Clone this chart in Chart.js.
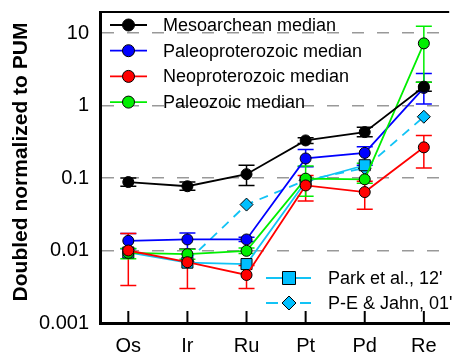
<!DOCTYPE html>
<html lang="en">
<head>
    <meta charset="UTF-8">
    <title>PGE normalized to PUM</title>
    <script src="https://cdn.jsdelivr.net/npm/chart.js"></script>
    <style>
        html, body { margin: 0; padding: 0; background: #fff; }
        #wrap { width: 458px; height: 356px; }
    </style>
</head>
<body>
    <div id="wrap"><canvas id="pumChart" width="458" height="356"></canvas></div>

    <script>
        // Elements on the x axis
        const elements = ['Os', 'Ir', 'Ru', 'Pt', 'Pd', 'Re'];

        // Y tick labels (log decades)
        const yTickValues = [0.001, 0.01, 0.1, 1, 10];
        const yTickLabels = ['0.001', '0.01', '0.1', '1', '10'];

        // Medians with error bar low / high
        const mesoarchean   = [0.088, 0.077, 0.113, 0.33, 0.43, 1.82];
        const mesoarcheanLo = [0.077, 0.068, 0.079, 0.30, 0.37, 1.57];
        const mesoarcheanHi = [0.100, 0.088, 0.150, 0.36, 0.50, 2.10];

        const paleoproterozoic   = [0.0136, 0.0142, 0.0142, 0.186, 0.222, 1.75];
        const paleoproterozoicLo = [0.0106, 0.0106, 0.0133, 0.143, 0.150, 1.05];
        const paleoproterozoicHi = [0.0171, 0.0175, 0.0152, 0.247, 0.270, 2.76];

        const neoproterozoic   = [0.0100, 0.0069, 0.0046, 0.079, 0.064, 0.265];
        const neoproterozoicLo = [0.0033, 0.0030, 0.0030, 0.048, 0.037, 0.137];
        const neoproterozoicHi = [0.0171, 0.0104, 0.0062, 0.108, 0.090, 0.386];

        const paleozoic   = [0.0093, 0.0089, 0.0099, 0.098, 0.096, 7.2];
        const paleozoicLo = [0.0077, 0.0076, 0.0091, 0.056, 0.085, 2.1];
        const paleozoicHi = [0.0107, 0.0104, 0.0108, 0.146, 0.160, 12.4];

        // Reference data
        const parkEtAl = [0.0094, 0.0068, 0.0065, 0.089, 0.150, null];
        const peJahn   = [null, 0.0071, 0.043, 0.093, 0.137, 0.70];

        const FONT = '"Liberation Sans", Arial, sans-serif';
        const CYAN = '#12c3f5';

        const toPoints = arr => arr.map((v, i) => ({ x: i, y: v }));

        const medianSet = (label, values, lo, hi, color, order) => ({
            label: label,
            data: toPoints(values),
            errLo: lo,
            errHi: hi,
            borderColor: color,
            backgroundColor: color,
            pointBackgroundColor: color,
            pointBorderColor: '#000',
            pointBorderWidth: 1,
            pointRadius: 5.5,
            borderWidth: 1.8,
            order: order
        });

        const datasets = [
            medianSet('Mesoarchean median', mesoarchean, mesoarcheanLo, mesoarcheanHi, '#000000', 1),
            medianSet('Paleoproterozoic median', paleoproterozoic, paleoproterozoicLo, paleoproterozoicHi, '#0000ff', 4),
            medianSet('Neoproterozoic median', neoproterozoic, neoproterozoicLo, neoproterozoicHi, '#ff0000', 2),
            medianSet('Paleozoic median', paleozoic, paleozoicLo, paleozoicHi, '#00ee00', 3),
            {
                label: "Park et al., 12'",
                data: toPoints(parkEtAl),
                borderColor: CYAN,
                pointBackgroundColor: '#00bfff',
                pointBorderColor: '#000',
                pointBorderWidth: 1,
                pointStyle: 'rect',
                pointRadius: 7.8,
                borderWidth: 1.8,
                order: 5
            },
            {
                label: "P-E & Jahn, 01'",
                data: toPoints(peJahn),
                borderColor: CYAN,
                borderDash: [9, 7],
                pointBackgroundColor: '#00bfff',
                pointBorderColor: '#000',
                pointBorderWidth: 1,
                pointStyle: 'rectRot',
                pointRadius: 6.5,
                borderWidth: 1.8,
                order: 6
            }
        ];

        // Error bars drawn under the lines
        const errorBars = {
            id: 'errorBars',
            beforeDatasetsDraw(chart) {
                const { ctx, scales: { x, y } } = chart;
                ctx.save();
                chart.data.datasets.forEach(ds => {
                    if (!ds.errLo) return;
                    ctx.strokeStyle = ds.borderColor;
                    ctx.lineWidth = 1.5;
                    ds.errLo.forEach((lo, i) => {
                        const px = x.getPixelForValue(i);
                        const y1 = y.getPixelForValue(lo);
                        const y2 = y.getPixelForValue(ds.errHi[i]);
                        ctx.beginPath();
                        ctx.moveTo(px, y1); ctx.lineTo(px, y2);
                        ctx.moveTo(px - 8, y1); ctx.lineTo(px + 8, y1);
                        ctx.moveTo(px - 8, y2); ctx.lineTo(px + 8, y2);
                        ctx.stroke();
                    });
                });
                ctx.restore();
            }
        };

        function drawMarker(ctx, style, cx, cy, fill) {
            ctx.fillStyle = fill;
            ctx.strokeStyle = '#000';
            ctx.lineWidth = 1;
            ctx.beginPath();
            if (style === 'rect') {
                ctx.rect(cx - 6.5, cy - 6.5, 13, 13);
            } else if (style === 'rectRot') {
                ctx.moveTo(cx - 7, cy); ctx.lineTo(cx, cy - 7);
                ctx.lineTo(cx + 7, cy); ctx.lineTo(cx, cy + 7);
                ctx.closePath();
            } else {
                ctx.arc(cx, cy, 6, 0, Math.PI * 2);
            }
            ctx.fill();
            ctx.stroke();
        }

        // Frame, inward ticks, legends and y title
        const decorations = {
            id: 'decorations',
            afterDraw(chart) {
                const { ctx, chartArea: area, scales: { x } } = chart;
                ctx.save();

                // top frame line
                ctx.strokeStyle = '#000';
                ctx.lineWidth = 2;
                ctx.beginPath();
                ctx.moveTo(area.left, area.top); ctx.lineTo(area.right, area.top);
                ctx.stroke();

                // inward x ticks
                ctx.lineWidth = 2;
                elements.forEach((e, i) => {
                    const px = x.getPixelForValue(i);
                    ctx.beginPath();
                    ctx.moveTo(px, area.bottom); ctx.lineTo(px, area.bottom - 12);
                    ctx.stroke();
                });

                ctx.font = '18px ' + FONT;
                ctx.textBaseline = 'middle';
                ctx.textAlign = 'left';

                // legend for medians
                const ds = chart.data.datasets;
                [0, 1, 2, 3].forEach((k, row) => {
                    const yy = 25 + row * 25.7;
                    ctx.strokeStyle = ds[k].borderColor;
                    ctx.lineWidth = 1.8;
                    ctx.setLineDash([]);
                    ctx.beginPath();
                    ctx.moveTo(110, yy); ctx.lineTo(147, yy);
                    ctx.stroke();
                    drawMarker(ctx, 'circle', 128.5, yy, ds[k].pointBackgroundColor);
                    ctx.fillStyle = '#000';
                    ctx.fillText(ds[k].label, 163, yy + 1);
                });

                // legend for reference data
                [4, 5].forEach((k, row) => {
                    const yy = 278 + row * 25;
                    ctx.strokeStyle = CYAN;
                    ctx.lineWidth = 1.8;
                    ctx.setLineDash(k === 5 ? [12, 5] : []);
                    ctx.beginPath();
                    ctx.moveTo(266, yy); ctx.lineTo(311, yy);
                    ctx.stroke();
                    ctx.setLineDash([]);
                    drawMarker(ctx, ds[k].pointStyle, 289, yy, '#00bfff');
                    ctx.fillStyle = '#000';
                    ctx.fillText(ds[k].label, 328, yy + 1);
                });

                // y axis title
                ctx.translate(21, 162);
                ctx.rotate(-Math.PI / 2);
                ctx.font = 'bold 21px ' + FONT;
                ctx.textAlign = 'center';
                ctx.fillStyle = '#000';
                ctx.fillText('Doubled normalized to PUM', 0, 0);

                ctx.restore();
            }
        };

        const ctx = document.getElementById('pumChart').getContext('2d');
        const pumChart = new Chart(ctx, {
            type: 'line',
            data: { datasets: datasets },
            options: {
                responsive: false,
                animation: false,
                layout: { padding: 0 },
                plugins: {
                    legend: { display: false },
                    tooltip: { enabled: false }
                },
                scales: {
                    x: {
                        type: 'linear',
                        min: -0.479,
                        max: 5.429,
                        afterBuildTicks: s => { s.ticks = elements.map((e, i) => ({ value: i })); },
                        afterFit: s => {
                            s.height = 33;
                            s.paddingLeft = 0;
                            s.paddingRight = 0;
                        },
                        grid: { display: false, drawTicks: false },
                        border: { display: true, color: '#000', width: 3 },
                        ticks: {
                            padding: 11,
                            color: '#000',
                            font: { family: FONT, size: 20 },
                            callback: v => elements[v]
                        }
                    },
                    y: {
                        type: 'logarithmic',
                        min: 0.001,
                        max: 19.5,
                        afterBuildTicks: s => { s.ticks = yTickValues.map(v => ({ value: v })); },
                        afterFit: s => {
                            s.width = 100;
                            s.paddingTop = 12;
                            s.paddingBottom = 0;
                        },
                        grid: {
                            drawTicks: false,
                            lineWidth: 1.5,
                            color: c => (c.tick && c.tick.value === 0.001) ? 'rgba(0,0,0,0)' : '#999999'
                        },
                        border: { display: true, color: '#000', width: 3, dash: [12, 13] },
                        ticks: {
                            padding: 11,
                            color: '#000',
                            font: { family: FONT, size: 20 },
                            callback: v => {
                                const k = yTickValues.indexOf(v);
                                return k >= 0 ? yTickLabels[k] : '';
                            }
                        }
                    }
                }
            },
            plugins: [errorBars, decorations]
        });
    </script>
</body>
</html>
